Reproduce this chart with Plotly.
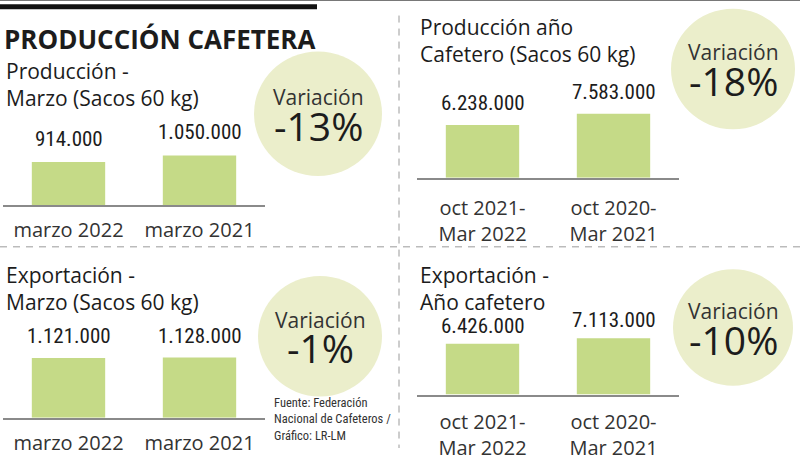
import plotly.graph_objects as go

W, H = 800, 461

# data
titles = [
    "Producción -<br>Marzo (Sacos 60 kg)",
    "Producción año<br>Cafetero (Sacos 60 kg)",
    "Exportación -<br>Marzo (Sacos 60 kg)",
    "Exportación -<br>Año cafetero",
]
periodos_mes = ["marzo 2022", "marzo 2021"]
periodos_anio = ["oct 2021-<br>Mar 2022", "oct 2020-<br>Mar 2021"]
produccion_marzo = [914000, 1050000]
produccion_anio = [6238000, 7583000]
exportacion_marzo = [1121000, 1128000]
exportacion_anio = [6426000, 7113000]
variaciones = ["-13%", "-18%", "-1%", "-10%"]

panels = [
    (periodos_mes, produccion_marzo),
    (periodos_anio, produccion_anio),
    (periodos_mes, exportacion_marzo),
    (periodos_anio, exportacion_anio),
]

# layout of each panel in pixels: axis left/right, baseline, title top, bubble centre/radius,
# y max, tick standoff, value label lift
boxes = [
    dict(x0=3, x1=265, base=211, ttop=57, cx=318, cy=117, r=64, ymax=2058800, so=6, lift=9),
    dict(x0=417, x1=679, base=183, ttop=11, cx=733, cy=71, r=62, ymax=11489400, so=11, lift=8),
    dict(x0=3, x1=265, base=430, ttop=267, cx=320, cy=346, r=62, ymax=1819400, so=6, lift=8),
    dict(x0=417, x1=679, base=406, ttop=267, cx=733, cy=337, r=60, ymax=12263800, so=9, lift=4),
]

BAR = "#c5da87"
CIRCLE = "#ebeecb"
DARK = "#1c1c1c"
GREY = "#333333"
MAIN_FONT = "Open Sans"
NARROW = "Roboto Condensed, Noto Sans Condensed, DejaVu Sans Condensed"


def px(x):
    return x / W


def py(y):
    return 1 - y / H


fmt = lambda v: f"{v:,}".replace(",", ".")

fig = go.Figure()
shapes = []
annotations = []

for i, ((cats, vals), b) in enumerate(zip(panels, boxes)):
    n = "" if i == 0 else str(i + 1)
    fig.add_trace(go.Bar(
        x=cats, y=vals, xaxis="x" + n, yaxis="y" + n,
        marker=dict(color=BAR, line=dict(width=0)), width=0.56,
        hoverinfo="skip", showlegend=False,
    ))
    fig.update_layout(**{
        "xaxis" + n: dict(
            domain=[px(b["x0"]), px(b["x1"])], anchor="y" + n,
            showgrid=False, zeroline=False, showline=True,
            linecolor="#8a8a8a", linewidth=1.5, ticks="",
            tickfont=dict(family=MAIN_FONT, size=20, color=GREY),
            ticklabelstandoff=b["so"], fixedrange=True,
        ),
        "yaxis" + n: dict(
            domain=[py(b["base"]), py(b["base"] - 100)], anchor="x" + n,
            range=[0, b["ymax"]], visible=False, fixedrange=True,
        ),
    })
    for c, v in zip(cats, vals):
        annotations.append(dict(
            x=c, y=v, xref="x" + n, yref="y" + n, text=fmt(v),
            showarrow=False, xanchor="center", yanchor="bottom", yshift=b["lift"],
            font=dict(family=NARROW, size=21, color=DARK),
        ))
    # title
    annotations.append(dict(
        x=px(b["x0"] + 1), y=py(b["ttop"]), xref="paper", yref="paper",
        text=titles[i], showarrow=False, xanchor="left", yanchor="top", align="left",
        font=dict(family=MAIN_FONT, size=21, color=DARK),
    ))
    # variation bubble
    shapes.append(dict(
        type="circle", xref="paper", yref="paper", layer="below",
        x0=px(b["cx"] - b["r"]), x1=px(b["cx"] + b["r"]),
        y0=py(b["cy"] + b["r"]), y1=py(b["cy"] - b["r"]),
        fillcolor=CIRCLE, line=dict(width=0),
    ))
    annotations.append(dict(
        x=px(b["cx"]), y=py(b["cy"] - 17), xref="paper", yref="paper",
        text="Variación", showarrow=False, xanchor="center", yanchor="middle",
        font=dict(family=MAIN_FONT, size=21, color=GREY),
    ))
    annotations.append(dict(
        x=px(b["cx"]), y=py(b["cy"] + 12), xref="paper", yref="paper",
        text=variaciones[i], showarrow=False, xanchor="center", yanchor="middle",
        font=dict(family=MAIN_FONT, size=39, color=DARK),
    ))

# header and separators
shapes += [
    dict(type="line", xref="paper", yref="paper", x0=0, x1=1, y0=py(0.5), y1=py(0.5),
         line=dict(color="#777777", width=1)),
    dict(type="line", xref="paper", yref="paper", x0=0, x1=px(317), y0=py(7), y1=py(7),
         line=dict(color="#111111", width=5)),
    dict(type="line", xref="paper", yref="paper", x0=0, x1=1, y0=py(254), y1=py(254),
         line=dict(color="#9a9a9a", width=1, dash="7px,6px")),
    dict(type="line", xref="paper", yref="paper", x0=px(399), x1=px(399), y0=py(16), y1=0,
         line=dict(color="#9a9a9a", width=1, dash="7px,6px")),
]

annotations.append(dict(
    x=px(2), y=py(40), xref="paper", yref="paper", text="<b>PRODUCCIÓN CAFETERA</b>",
    showarrow=False, xanchor="left", yanchor="middle",
    font=dict(family=MAIN_FONT, size=26, color=DARK),
))
annotations.append(dict(
    x=px(272), y=py(404), xref="paper", yref="paper",
    text="Fuente: Federación<br>Nacional de Cafeteros /<br>Gráfico: LR-LM",
    showarrow=False, xanchor="left", yanchor="top", align="left",
    font=dict(family=NARROW, size=12.5, color=GREY),
))

fig.update_layout(
    width=W, height=H, margin=dict(l=0, r=0, t=0, b=0),
    paper_bgcolor="white", plot_bgcolor="rgba(0,0,0,0)",
    shapes=shapes, annotations=annotations, bargap=0.44,
)

# drop the default page margin so the figure fills the window
fig.write_html("out.html", config={"displayModeBar": False},
               post_script="document.body.style.margin='0';")
